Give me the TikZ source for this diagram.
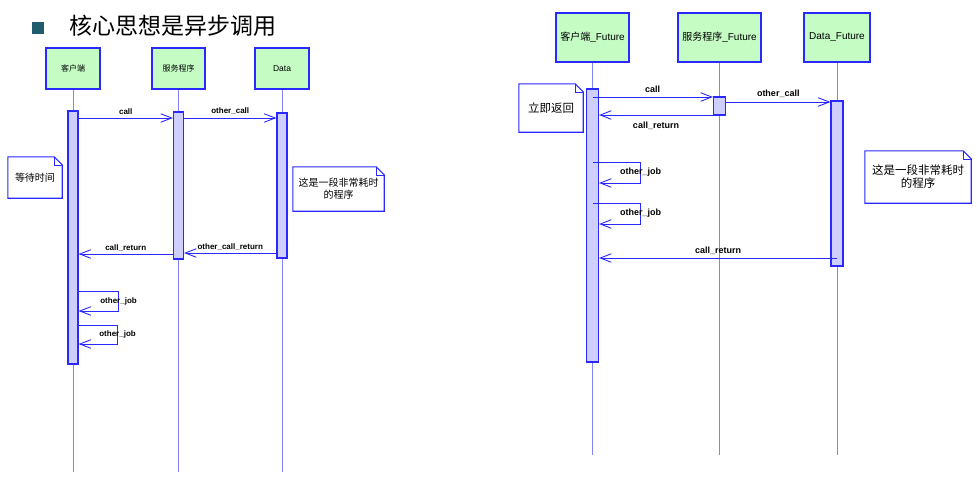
\documentclass[tikz,border=0pt]{standalone}
\usepackage{fontspec}
\setmainfont{Liberation Sans}
\newfontfamily\cjk{Noto Sans CJK SC}
\usetikzlibrary{arrows.meta}
\definecolor{boxgreen}{RGB}{196,252,196}
\definecolor{umlblue}{RGB}{40,40,255}
\definecolor{actfill}{RGB}{206,206,255}
\definecolor{lifeblue}{RGB}{130,130,255}
\definecolor{bulletc}{RGB}{31,92,110}
\tikzset{
  obj/.style={draw=umlblue, fill=boxgreen, line width=1.1pt, inner sep=0pt, align=center},
  act/.style={draw=umlblue, fill=actfill, line width=1.1pt, inner sep=0pt},
  life/.style={draw=lifeblue, line width=0.7pt},
  msg/.style={draw=umlblue, line width=0.9pt, -{Straight Barb[length=11pt,width=8.5pt]}},
  lbl/.style={font=\fontsize{8}{9}\selectfont\bfseries, inner sep=0pt},
  rlbl/.style={font=\fontsize{9}{10}\selectfont\bfseries, inner sep=0pt},
  notetext/.style={inner sep=0pt, align=center},
}
\newcommand\drawnote[1]{%
  \draw[umlblue, line width=1.1pt] (#1.south west) -- (#1.north west) -- ([xshift=-8pt]#1.north east) -- ([yshift=-8pt]#1.north east) -- (#1.south east) -- cycle;
  \draw[umlblue, line width=0.6pt] ([xshift=-8pt]#1.north east) -- ([xshift=-8pt,yshift=-8pt]#1.north east) -- ([yshift=-8pt]#1.north east);}
\begin{document}
\begin{tikzpicture}[x=1pt, y=-1pt]
\useasboundingbox (0,0) rectangle (977,483);
% title
\node[fill=bulletc, minimum size=12pt, inner sep=0pt] (bul) at (38,28) {};
\node[font=\cjk\fontsize{23}{27}\selectfont, anchor=west, inner sep=0pt] (title) at (69,26) {核心思想是异步调用};

% ---------- left diagram ----------
\node[obj, minimum width=54pt, minimum height=41pt, font=\cjk\fontsize{8}{9}\selectfont] (c) at (73,68.5) {客户端};
\node[obj, minimum width=53pt, minimum height=41pt, font=\cjk\fontsize{8}{9}\selectfont] (s) at (178.5,68.5) {服务程序};
\node[obj, minimum width=54pt, minimum height=41pt, font=\fontsize{8.5}{9}\selectfont] (d) at (282,68.5) {Data};
\draw[life] (c.south) -- (c.south |- 0,472);
\draw[life] (s.south) -- (s.south |- 0,472);
\draw[life] (d.south) -- (d.south |- 0,472);
\node[act, minimum width=10pt, minimum height=253pt] (ca) at (c.south |- 0,237.5) {};
\node[act, minimum width=10pt, minimum height=147pt] (sa) at (s.south |- 0,185.5) {};
\node[act, minimum width=10pt, minimum height=145pt] (da) at (d.south |- 0,185.5) {};

\draw[msg] (ca.east |- 0,118) -- node[lbl, above=3pt] {call} (sa.west |- 0,118);
\draw[msg] (sa.east |- 0,118) -- node[lbl, above=3pt] {other\_call} (da.west |- 0,118);
\draw[msg] (sa.west |- 0,254) -- node[lbl, above=2.5pt] {call\_return} (ca.east |- 0,254);
\draw[msg] (da.west |- 0,253) -- node[lbl, above=2.5pt] {other\_call\_return} (sa.east |- 0,253);
\draw[msg] (ca.east |- 0,291) -- ++(40,0) -- node[lbl, midway] {other\_job} ++(0,20) -- (ca.east |- 0,311);
\draw[msg] (ca.east |- 0,325) -- ++(39,0) -- node[lbl, midway] {other\_job} ++(0,19) -- (ca.east |- 0,344);

\node[notetext, minimum width=54pt, minimum height=41pt, font=\cjk\fontsize{10}{12}\selectfont] (n1) at (35,177.5) {等待时间};
\drawnote{n1}
\node[notetext, minimum width=91pt, minimum height=44pt, font=\cjk\fontsize{10}{12}\selectfont] (n2) at (338.5,189) {这是一段非常耗时\\的程序};
\drawnote{n2}

% ---------- right diagram ----------
\node[obj, minimum width=73pt, minimum height=49pt, font=\fontsize{10}{12}\selectfont] (cf) at (592.5,37.5) {{\cjk 客户端}\_Future};
\node[obj, minimum width=83pt, minimum height=49pt, font=\fontsize{10}{12}\selectfont] (sf) at (719.5,37.5) {{\cjk 服务程序}\_Future};
\node[obj, minimum width=66pt, minimum height=49pt, font=\fontsize{10}{12}\selectfont] (df) at (837,37.5) {Data\_Future};
\draw[life] (cf.south) -- (cf.south |- 0,455);
\draw[life] (sf.south) -- (sf.south |- 0,455);
\draw[life] (df.south) -- (df.south |- 0,455);
\node[act, minimum width=12pt, minimum height=273pt] (cfa) at (cf.south |- 0,225.5) {};
\node[act, minimum width=12pt, minimum height=18pt] (sfa) at (sf.south |- 0,106) {};
\node[act, minimum width=12pt, minimum height=165pt] (dfa) at (df.south |- 0,183.5) {};

\draw[msg] (cfa.center |- 0,97) -- node[rlbl, above=4pt] {call} (sfa.west |- 0,97);
\draw[msg] (sfa.east |- 0,102) -- node[rlbl, above=4pt] {other\_call} (dfa.west |- 0,102);
\draw[msg] (sfa.west |- 0,115) -- node[rlbl, below=7pt] {call\_return} (cfa.east |- 0,115);
\draw[msg] (cfa.center |- 0,162) -- ++(48,0) -- node[rlbl, midway] {other\_job} ++(0,21) -- (cfa.east |- 0,183);
\draw[msg] (cfa.center |- 0,203) -- ++(48,0) -- node[rlbl, midway] {other\_job} ++(0,21) -- (cfa.east |- 0,224);
\draw[msg] (dfa.center |- 0,258) -- node[rlbl, above=3pt] {call\_return} (cfa.east |- 0,258);

\node[notetext, minimum width=64pt, minimum height=48pt, font=\cjk\fontsize{11.5}{13}\selectfont] (n3) at (551,108) {立即返回};
\drawnote{n3}
\node[notetext, minimum width=106pt, minimum height=52pt, font=\cjk\fontsize{11.5}{13}\selectfont] (n4) at (918,177) {这是一段非常耗时\\的程序};
\drawnote{n4}
\end{tikzpicture}
\end{document}
